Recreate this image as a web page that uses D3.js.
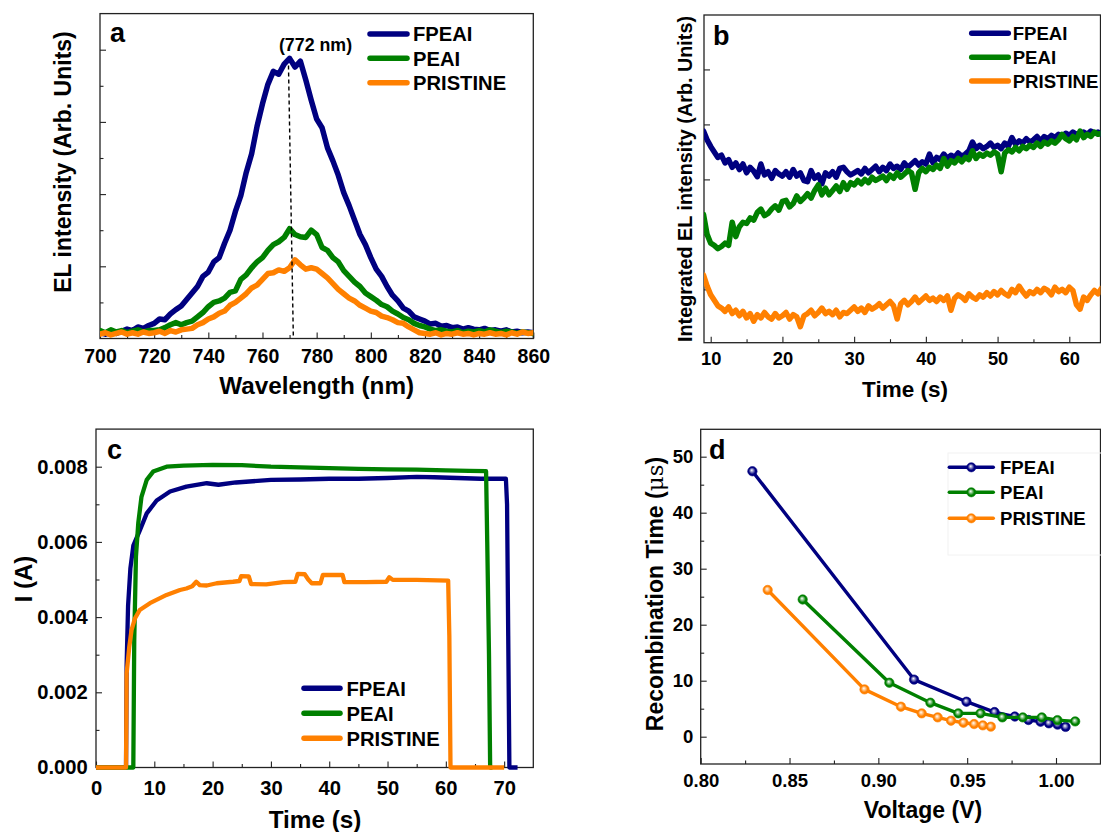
<!DOCTYPE html>
<html><head><meta charset="utf-8">
<script src="https://cdn.jsdelivr.net/npm/d3@7"></script>
<style>
body{margin:0;background:#fff;}
text{font-family:"Liberation Sans",Arial,sans-serif;font-weight:bold;fill:#000;}
</style>
</head><body>
<svg id="chart" width="1101" height="832"></svg>
<script>
// ---------- common ----------
const seriesNames = ["FPEAI", "PEAI", "PRISTINE"];
const seriesColors = ["#000080", "#008000", "#FF8000"];

// ---------- panel a : EL spectra ----------
const wlStart = 700, wlStep = 2;
const elFPEAI = [
 0.08,0.06,0.09,0.07,0.10,0.13,0.11,0.16,0.14,0.18,
 0.21,0.27,0.26,0.34,0.40,0.45,0.54,0.63,0.72,0.86,
 0.92,1.06,1.12,1.32,1.50,1.76,1.98,2.30,2.56,2.94,
 3.25,3.52,3.70,3.66,3.80,3.88,3.76,3.84,3.58,3.30,
 3.04,2.92,2.64,2.46,2.26,2.02,1.84,1.64,1.44,1.30,
 1.12,0.96,0.86,0.72,0.60,0.52,0.42,0.38,0.30,0.27,
 0.24,0.20,0.21,0.17,0.18,0.15,0.16,0.13,0.15,0.13,
 0.12,0.14,0.11,0.12,0.10,0.12,0.09,0.10,0.08,0.09,
 0.08];
const elPEAI = [
 0.11,0.08,0.12,0.09,0.11,0.08,0.10,0.12,0.09,0.11,
 0.11,0.12,0.15,0.19,0.22,0.19,0.22,0.24,0.30,0.36,
 0.44,0.50,0.52,0.56,0.64,0.66,0.82,0.88,0.98,1.06,
 1.12,1.22,1.30,1.34,1.40,1.52,1.44,1.41,1.40,1.50,
 1.44,1.26,1.22,1.12,1.06,0.94,0.86,0.78,0.72,0.63,
 0.58,0.53,0.47,0.44,0.38,0.34,0.29,0.26,0.21,0.18,
 0.16,0.13,0.11,0.12,0.10,0.09,0.11,0.08,0.10,0.09,
 0.11,0.09,0.12,0.10,0.08,0.10,0.09,0.07,0.09,0.08,
 0.07];
const elPRISTINE = [
 0.06,0.08,0.05,0.07,0.09,0.06,0.08,0.06,0.09,0.07,
 0.08,0.10,0.07,0.11,0.09,0.12,0.13,0.14,0.19,0.22,
 0.27,0.30,0.35,0.38,0.46,0.50,0.56,0.62,0.70,0.74,
 0.82,0.90,0.91,0.95,0.93,0.98,1.09,1.02,0.96,0.98,
 0.96,0.90,0.84,0.76,0.68,0.62,0.56,0.52,0.46,0.42,
 0.38,0.36,0.31,0.29,0.26,0.22,0.21,0.16,0.12,0.08,
 0.07,0.06,0.08,0.05,0.07,0.06,0.08,0.06,0.07,0.05,
 0.07,0.06,0.08,0.06,0.07,0.05,0.08,0.06,0.09,0.07,
 0.08];
const peakLabel = "(772 nm)";
const peakLine = [[769.6, 3.78], [771.4, 0]];
const aXTicks = [700,720,740,760,780,800,820,840,860];
const aXMinor = [710,730,750,770,790,810,830,850];
const aYTicks = [1,2,3,4];
const aYMinor = [0.5,1.5,2.5,3.5];

// ---------- panel b : integrated EL vs time ----------
const tbStart = 9, tbStep = 0.5;
const ibFPEAI = [
 3.88,3.72,3.60,3.50,3.40,3.44,3.30,3.36,3.22,3.30,
 3.18,3.28,3.12,3.22,3.15,3.05,3.28,3.08,3.14,3.02,
 3.16,3.10,3.06,3.14,3.04,3.18,3.06,3.12,2.98,2.96,
 3.16,3.02,3.08,2.92,3.12,3.06,3.14,3.04,3.20,3.22,
 3.14,3.08,3.12,3.16,3.10,3.20,3.12,3.18,3.24,3.14,
 3.22,3.16,3.28,3.20,3.24,3.18,3.30,3.22,3.28,3.34,
 3.26,3.32,3.28,3.46,3.30,3.40,3.36,3.46,3.38,3.44,
 3.40,3.48,3.42,3.46,3.52,3.68,3.56,3.62,3.56,3.60,
 3.66,3.58,3.62,3.56,3.66,3.60,3.76,3.64,3.70,3.66,
 3.74,3.68,3.72,3.78,3.70,3.78,3.74,3.80,3.76,3.82,
 3.78,3.84,3.80,3.86,3.82,3.84,3.86,3.82,3.88,3.84,
 3.86,3.82];
const ibPEAI = [
 2.36,2.00,1.84,1.80,1.74,1.78,1.84,1.80,2.22,1.96,
 2.14,2.22,2.20,2.30,2.26,2.40,2.46,2.34,2.38,2.46,
 2.52,2.44,2.60,2.62,2.50,2.56,2.70,2.60,2.66,2.74,
 2.66,2.80,2.90,2.72,2.84,2.72,2.80,2.88,2.78,2.94,
 2.82,2.94,2.90,2.98,2.92,3.00,2.94,3.04,2.98,3.02,
 3.06,2.98,3.08,3.02,3.12,3.04,3.10,3.16,3.12,2.82,
 3.12,3.20,3.14,3.22,3.18,3.26,3.20,3.38,3.24,3.34,
 3.30,3.38,3.32,3.40,3.36,3.52,3.38,3.46,3.42,3.48,
 3.44,3.50,3.46,3.14,3.48,3.54,3.50,3.58,3.52,3.60,
 3.56,3.62,3.58,3.66,3.60,3.68,3.64,3.70,3.66,3.72,
 3.82,3.74,3.70,3.78,3.72,3.88,3.76,3.82,3.78,3.86,
 3.82,3.84];
const ibPRISTINE = [
 1.26,1.06,0.90,0.80,0.70,0.66,0.60,0.68,0.56,0.62,
 0.52,0.60,0.48,0.56,0.42,0.54,0.48,0.58,0.50,0.46,
 0.56,0.48,0.52,0.58,0.46,0.54,0.50,0.32,0.52,0.56,
 0.62,0.52,0.58,0.66,0.56,0.60,0.54,0.62,0.50,0.58,
 0.56,0.62,0.68,0.60,0.66,0.58,0.70,0.64,0.68,0.74,
 0.66,0.72,0.78,0.70,0.46,0.74,0.80,0.72,0.78,0.86,
 0.76,0.82,0.88,0.80,0.84,0.78,0.86,0.80,0.88,0.62,
 0.84,0.90,0.86,0.80,0.92,0.86,0.82,0.90,0.86,0.94,
 0.88,0.96,0.90,0.98,0.92,0.88,1.00,0.94,1.06,0.96,
 0.88,0.96,0.92,1.00,0.94,1.02,0.98,0.90,1.04,0.96,
 1.00,0.94,1.04,0.98,0.72,0.64,0.86,0.80,0.90,0.98,
 0.92,1.02];
const bXTicks = [10,20,30,40,50,60];
const bXMinor = [15,25,35,45,55];
const bYTicks = [1,2,3,4,5];

// ---------- panel c : current vs time ----------
const icFPEAI = [[0,0],[5.15,0],[5.25,0.0027],[5.5,0.0043],[5.9,0.0053],[6.4,0.0059],[7.5,0.0063],
 [8.7,0.00676],[10.4,0.0071],[12.7,0.00734],[15.5,0.00747],[19,0.00756],[21,0.00752],[24,0.00758],
 [30,0.00765],[35,0.00766],[40,0.00768],[45,0.00768],[50,0.0077],[55,0.00773],[58,0.00772],
 [62,0.0077],[66,0.00768],[70.3,0.00768],[70.5,0.007],[70.7,0.0035],[70.9,0],[72.3,0]];
const icPEAI = [[0,0],[6.4,0],[6.56,0.0034],[6.85,0.0056],[7.25,0.0065],[7.8,0.0072],[8.7,0.00765],
 [9.8,0.00787],[12.1,0.008],[15,0.00803],[20,0.00805],[25,0.00804],[30,0.008],[35,0.00798],
 [40,0.00796],[45,0.00794],[50,0.00793],[55,0.00792],[60,0.0079],[64,0.00789],[66.9,0.00788],
 [67.1,0.006],[67.4,0.003],[67.6,0],[68,0]];
const icPRISTINE = [[0,0],[5.15,0],[5.25,0.0025],[5.7,0.0032],[6.1,0.00366],[6.7,0.00397],[7.5,0.00419],
 [9.25,0.00437],[12.1,0.00459],[14.4,0.00472],[15.5,0.00476],[16.5,0.00482],[17.2,0.00494],
 [17.8,0.00485],[19,0.00484],[20.7,0.0049],[23.5,0.00494],[24.6,0.00496],[24.9,0.00509],
 [26.2,0.00508],[26.6,0.00488],[29.2,0.00487],[32.1,0.00493],[34.2,0.00494],[34.6,0.00515],
 [35.8,0.00514],[36.4,0.005],[37,0.0049],[38.5,0.0049],[38.9,0.00512],[42.3,0.00512],
 [42.6,0.00493],[46.3,0.00493],[49.8,0.00494],[50.3,0.00506],[50.9,0.00499],[55,0.00499],
 [60.4,0.00497],[60.6,0.0035],[60.8,0],[70,0]];
const cXTicks = [0,10,20,30,40,50,60,70];
const cXMinor = [5,15,25,35,45,55,65];
const cYTicks = [0,0.002,0.004,0.006,0.008];
const cYMinor = [0.001,0.003,0.005,0.007];

// ---------- panel d : recombination time vs voltage ----------
const vFPEAI   = [0.8291,0.9201,0.9496,0.9654,0.9768,0.9845,0.9913,0.9960,1.0009,1.0054];
const tauFPEAI = [47.4,10.2,6.25,4.4,3.6,2.98,2.68,2.39,2.15,1.75];
const vPEAI    = [0.8574,0.9062,0.9293,0.9450,0.9575,0.9698,0.9813,0.9920,1.0008,1.0108];
const tauPEAI  = [24.5,9.64,6.07,4.17,4.17,3.45,3.45,3.45,2.96,2.73];
const vPRISTINE   = [0.8377,0.8922,0.9127,0.9244,0.9334,0.9409,0.9479,0.9539,0.9588,0.9633];
const tauPRISTINE = [26.2,8.45,5.36,4.17,3.45,2.86,2.50,2.26,2.03,1.79];
const dXTicks = [0.80,0.85,0.90,0.95,1.00];
const dXMinor = [0.825,0.875,0.925,0.975];
const dYTicks = [0,10,20,30,40,50];
const dYMinor = [5,15,25,35,45];

// ================= drawing =================
const svg = d3.select("#chart");
svg.append("rect").attr("width",1101).attr("height",832).attr("fill","#fff");
const defs = svg.append("defs");
seriesColors.forEach((c,i)=>{
  const g = defs.append("radialGradient").attr("id","ball"+i).attr("cx","50%").attr("cy","50%").attr("r","55%").attr("fx","42%").attr("fy","38%");
  g.append("stop").attr("offset","0%").attr("stop-color","#ffffff");
  g.append("stop").attr("offset","30%").attr("stop-color",d3.interpolateRgb("#ffffff",c)(0.45));
  g.append("stop").attr("offset","65%").attr("stop-color",c);
  g.append("stop").attr("offset","100%").attr("stop-color",c);
});

function frameAndAxes(x, y, o) {
  const [x0,x1] = x.range(), [y0,y1] = y.range();
  const g = svg.append("g");
  g.append("rect").attr("x",x0).attr("y",y1).attr("width",x1-x0).attr("height",y0-y1)
    .attr("fill","none").attr("stroke","#222").attr("stroke-width",1.3);
  const style = sel => {
    sel.select(".domain").remove();
    sel.attr("font-family",null).attr("font-size",null);
    sel.selectAll("line").attr("stroke","#222").attr("stroke-width",1.1);
    sel.selectAll("text").style("font-size",o.fs+"px");
  };
  g.append("g").attr("transform",`translate(0,${y0})`)
    .call(d3.axisBottom(x).tickValues(o.xTicks).tickSize(-6).tickPadding(o.xPad).tickFormat(o.xFmt)).call(style);
  if (o.xMinor) g.append("g").attr("transform",`translate(0,${y0})`)
    .call(d3.axisBottom(x).tickValues(o.xMinor).tickSize(-3.5).tickFormat("")).call(style);
  g.append("g").attr("transform",`translate(${x0},0)`)
    .call(d3.axisLeft(y).tickValues(o.yTicks).tickSize(-6).tickPadding(o.yPad||8).tickFormat(o.yFmt||"")).call(style);
  if (o.yMinor) g.append("g").attr("transform",`translate(${x0},0)`)
    .call(d3.axisLeft(y).tickValues(o.yMinor).tickSize(-3.5).tickFormat("")).call(style);
  return g;
}
function clip(id, x, y) {
  const [x0,x1] = x.range(), [y0,y1] = y.range();
  defs.append("clipPath").attr("id",id).append("rect").attr("x",x0).attr("y",y1-4).attr("width",x1-x0).attr("height",y0-y1+4);
  return "url(#"+id+")";
}
function legend(x0, x1, tx, ys, fs, withMarker, lw) {
  seriesNames.forEach((n,i)=>{
    svg.append("line").attr("x1",x0).attr("x2",x1).attr("y1",ys[i]).attr("y2",ys[i])
      .attr("stroke",seriesColors[i]).attr("stroke-width",lw).attr("stroke-linecap","round");
    if (withMarker) svg.append("circle").attr("cx",(x0+x1)/2).attr("cy",ys[i]).attr("r",4.6)
      .attr("fill","url(#ball"+i+")").attr("stroke",seriesColors[i]).attr("stroke-width",0.6);
    svg.append("text").attr("x",tx).attr("y",ys[i]).attr("dy","0.36em").style("font-size",fs+"px").text(n);
  });
}
function title(txt, x, y, rot, fs) {
  const t = svg.append("text").attr("text-anchor","middle").style("font-size",fs+"px");
  if (rot) t.attr("transform",`translate(${x},${y}) rotate(-90)`); else t.attr("x",x).attr("y",y);
  t.text(txt);
  return t;
}

// ---- panel a ----
{
  const x = d3.scaleLinear().domain([700,860]).range([100,533.3]);
  const y = d3.scaleLinear().domain([0,4.5]).range([338.5,13.6]);
  frameAndAxes(x,y,{fs:19.5,xTicks:aXTicks,xMinor:aXMinor,xPad:10.2,xFmt:d3.format("d"),yTicks:aYTicks,yMinor:aYMinor});
  const cp = clip("clipA",x,y);
  const line = d3.line().x((d,i)=>x(wlStart+i*wlStep)).y(d=>y(d));
  [elFPEAI, elPEAI, elPRISTINE].forEach((s,i)=>{
    svg.append("path").attr("d",line(s)).attr("fill","none").attr("stroke",seriesColors[i])
      .attr("stroke-width",5.5).attr("stroke-linejoin","round").attr("stroke-linecap","round").attr("clip-path",cp);
  });
  svg.append("path").attr("d",d3.line().x(d=>x(d[0])).y(d=>y(d[1]))(peakLine))
    .attr("stroke","#000").attr("stroke-width",1.4).attr("stroke-dasharray","4,3").attr("fill","none");
  svg.append("text").attr("x",315.5).attr("y",51).attr("text-anchor","middle").style("font-size","17.8px").text(peakLabel);
  svg.append("text").attr("x",110).attr("y",42).style("font-size","27px").text("a");
  legend(370,407,413,[34,58.3,82.7],20.2,false,5.5);
  title("Wavelength (nm)", 316.7, 394, false, 24.3);
  title("EL intensity (Arb. Units)", 71, 162, true, 23);
}

// ---- panel b ----
{
  const x = d3.scaleLinear().domain([9.066,64.35]).range([704,1100.5]);
  const y = d3.scaleLinear().domain([0.03,5.99]).range([342.7,15]);
  frameAndAxes(x,y,{fs:18.3,xTicks:bXTicks,xMinor:bXMinor,xPad:9.2,xFmt:d3.format("d"),yTicks:bYTicks});
  const cp = clip("clipB",x,y);
  const line = d3.line().x((d,i)=>x(tbStart+i*tbStep)).y(d=>y(d));
  [ibFPEAI, ibPEAI, ibPRISTINE].forEach((s,i)=>{
    svg.append("path").attr("d",line(s)).attr("fill","none").attr("stroke",seriesColors[i])
      .attr("stroke-width",5.5).attr("stroke-linejoin","round").attr("stroke-linecap","round").attr("clip-path",cp);
  });
  svg.append("text").attr("x",713).attr("y",45).style("font-size","27px").text("b");
  legend(971.7,1008.3,1012.7,[33.3,57.3,81],18.6,false,5.5);
  title("Time (s)", 905, 397, false, 22.5);
  title("Integrated EL intensity (Arb. Units)", 692, 179, true, 19.8);
}

// ---- panel c ----
{
  const x = d3.scaleLinear().domain([0,75]).range([96,533.3]);
  const y = d3.scaleLinear().domain([0,0.009]).range([767.5,429.1]);
  frameAndAxes(x,y,{fs:20.2,xTicks:cXTicks,xMinor:cXMinor,xPad:13,xFmt:d3.format("d"),
    yTicks:cYTicks,yMinor:cYMinor,yPad:8.3,yFmt:d3.format(".3f")});
  const line = d3.line().x(d=>x(d[0])).y(d=>y(d[1]));
  [icFPEAI, icPEAI, icPRISTINE].forEach((s,i)=>{
    svg.append("path").attr("d",line(s)).attr("fill","none").attr("stroke",seriesColors[i])
      .attr("stroke-width",4.3).attr("stroke-linejoin","round");
  });
  svg.append("text").attr("x",107).attr("y",459).style("font-size","27px").text("c");
  legend(304,340,346.5,[688.3,713.3,738.3],20.2,false,5.5);
  title("Time (s)", 315, 828, false, 24.3);
  title("I (A)", 32, 579, true, 24);
}

// ---- panel d ----
{
  const x = d3.scaleLinear().domain([0.8,1.02505]).range([700.7,1100.5]);
  const y = d3.scaleLinear().domain([-4.875,54.89]).range([764,429.3]);
  frameAndAxes(x,y,{fs:18.5,xTicks:dXTicks,xMinor:dXMinor,xPad:9.6,xFmt:d3.format(".2f"),
    yTicks:dYTicks,yMinor:dYMinor,yPad:7.4,yFmt:d3.format("d")});
  svg.append("rect").attr("x",948).attr("y",453).attr("width",160).attr("height",102)
    .attr("fill","none").attr("stroke","#f2f2f2").attr("stroke-width",1);
  const data = [[vFPEAI,tauFPEAI],[vPEAI,tauPEAI],[vPRISTINE,tauPRISTINE]];
  data.forEach(([vs,ts],i)=>{
    const pts = vs.map((v,k)=>[v,ts[k]]);
    svg.append("path").attr("d",d3.line().x(d=>x(d[0])).y(d=>y(d[1]))(pts))
      .attr("fill","none").attr("stroke",seriesColors[i]).attr("stroke-width",3.4).attr("stroke-linejoin","round");
    svg.append("g").selectAll("circle").data(pts).join("circle")
      .attr("cx",d=>x(d[0])).attr("cy",d=>y(d[1])).attr("r",4.7)
      .attr("fill","url(#ball"+i+")").attr("stroke",seriesColors[i]).attr("stroke-width",0.6);
  });
  svg.append("text").attr("x",709).attr("y",459).style("font-size","27px").text("d");
  legend(949.3,993.3,1000,[467.3,492.3,518.3],18.6,true,3.4);
  title("Voltage (V)", 923, 818, false, 23);
  const t = svg.append("text").attr("text-anchor","middle").style("font-size","23px")
    .attr("transform","translate(663,594) rotate(-90)");
  t.append("tspan").text("Recombination Time (");
  t.append("tspan").style("font-weight","normal").style("font-family","'DejaVu Serif',serif").text("\u03BCs");
  t.append("tspan").text(")");
}
</script>
</body></html>
